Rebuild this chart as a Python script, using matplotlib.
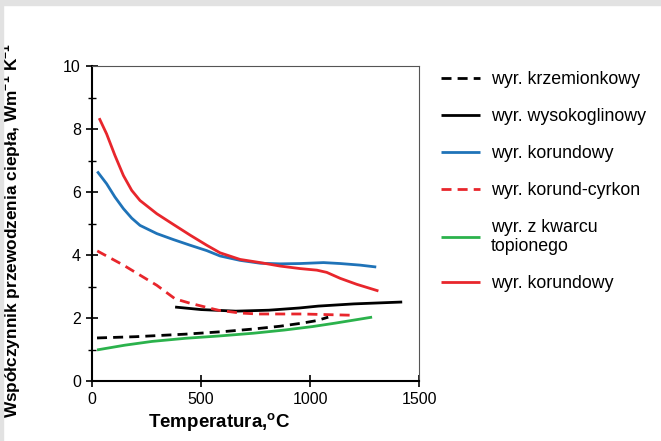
import matplotlib.pyplot as plt
from matplotlib.patches import Rectangle
from matplotlib.ticker import MultipleLocator

# (temperatura [C], wspolczynnik [W/mK])
t_krzem = [23, 200, 427, 600, 734, 860, 963, 1030, 1069, 1083]
k_krzem = [1.38, 1.42, 1.50, 1.58, 1.66, 1.75, 1.85, 1.93, 2.01, 2.04]

t_wysok = [381, 500, 659, 810, 950, 1037, 1200, 1422]
k_wysok = [2.36, 2.28, 2.23, 2.26, 2.33, 2.39, 2.46, 2.52]

t_korund = [24, 67, 105, 144, 182, 220, 297, 373, 450, 526, 587, 679, 771, 862,
            954, 1061, 1138, 1229, 1303]
k_korund = [6.66, 6.27, 5.85, 5.48, 5.18, 4.95, 4.69, 4.50, 4.32, 4.15, 3.98, 3.84,
            3.75, 3.73, 3.74, 3.77, 3.74, 3.69, 3.63]

t_kc = [24, 144, 297, 381, 450, 578, 680, 761, 963, 1193]
k_kc = [4.14, 3.69, 3.05, 2.62, 2.48, 2.26, 2.17, 2.14, 2.14, 2.10]

t_kwarc = [23, 150, 275, 430, 578, 740, 881, 1010, 1115, 1284]
k_kwarc = [1.00, 1.15, 1.27, 1.37, 1.44, 1.53, 1.63, 1.74, 1.85, 2.04]

t_korund2 = [33, 67, 105, 144, 182, 220, 297, 373, 450, 526, 587, 679, 771, 862,
             954, 1031, 1076, 1138, 1214, 1313]
k_korund2 = [8.35, 7.85, 7.17, 6.53, 6.06, 5.74, 5.32, 4.98, 4.64, 4.32, 4.08, 3.87,
             3.77, 3.66, 3.58, 3.53, 3.46, 3.27, 3.08, 2.87]

red = '#e8262c'
blue = '#1f73b8'
green = '#2bb24c'

plt.rcParams['font.family'] = ['Liberation Sans', 'DejaVu Sans']

fig = plt.figure(figsize=(6.61, 4.41), dpi=100)
ax = fig.add_axes([0.1392, 0.135, 0.495, 0.715])

# szara ramka obrazka
fig.patches.append(Rectangle((0, 0.988), 1, 0.012, transform=fig.transFigure, color='#e2e2e2', zorder=0))
fig.patches.append(Rectangle((0, 0), 0.004, 1, transform=fig.transFigure, color='#e2e2e2', zorder=0))

lw = 2.0
kw = dict(lw=lw, solid_joinstyle='round', solid_capstyle='butt')
ax.plot(t_krzem, k_krzem, color='black', dashes=(3.6, 2.2), label='wyr. krzemionkowy', **kw)
ax.plot(t_wysok, k_wysok, color='black', label='wyr. wysokoglinowy', **kw)
ax.plot(t_korund, k_korund, color=blue, label='wyr. korundowy', **kw)
ax.plot(t_kc, k_kc, color=red, dashes=(3.6, 2.2), label='wyr. korund-cyrkon', **kw)
ax.plot(t_kwarc, k_kwarc, color=green, label='wyr. z kwarcu\ntopionego', **kw)
ax.plot(t_korund2, k_korund2, color=red, label='wyr. korundowy', **kw)

ax.set_xlim(0, 1500)
ax.set_ylim(0, 10)
ax.set_xticks([0, 500, 1000, 1500])
ax.set_yticks([0, 2, 4, 6, 8, 10])
ax.yaxis.set_minor_locator(MultipleLocator(1))
ax.tick_params(which='major', direction='inout', length=8, width=1.2, labelsize=11.5, colors='black')
ax.tick_params(which='minor', direction='inout', length=6, width=1.0)
ax.tick_params(axis='y', which='major', pad=4)

for s in ['left', 'bottom']:
    ax.spines[s].set_linewidth(1.5)
for s in ['top', 'right']:
    ax.spines[s].set_linewidth(0.8)
    ax.spines[s].set_color('#555555')

ax.set_xlabel('Temperatura,$^{\\mathregular{o}}$C', fontsize=13.5, fontweight='bold')
ax.xaxis.set_label_coords(0.39, -0.095)
ax.set_ylabel('Współczynnik przewodzenia ciepła, Wm$^{\\mathregular{-1}}$ K$^{\\mathregular{-1}}$',
              fontsize=12.4, fontweight='bold')
ax.yaxis.set_label_coords(-0.21, 0.48)

fig.legend(loc='upper left', bbox_to_anchor=(0.643, 0.875), frameon=False, fontsize=12.8,
           handlelength=2.2, handletextpad=0.6, labelspacing=1.12)

fig.savefig('out.png', dpi=100)
